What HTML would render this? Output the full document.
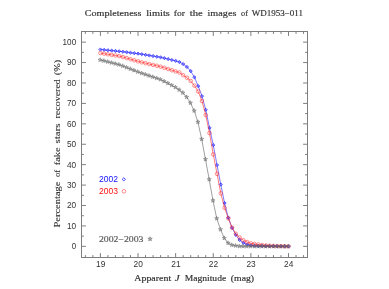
<!DOCTYPE html>
<html><head><meta charset="utf-8"><title>Completeness limits</title>
<style>html,body{margin:0;padding:0;background:#fff}body{width:389px;height:289px;overflow:hidden}</style></head>
<body>
<svg width="389" height="289" viewBox="0 0 389 289" style="display:block;will-change:transform">
<rect width="389" height="289" fill="#fff"/>
<rect x="81.50" y="31.50" width="226.00" height="226.00" fill="none" stroke="#7e7e7e" stroke-width="1"/>
<path d="M85.35 257.50v-2.40M85.35 31.50v2.40M92.88 257.50v-2.40M92.88 31.50v2.40M100.40 257.50v-4.40M100.40 31.50v4.40M107.92 257.50v-2.40M107.92 31.50v2.40M115.45 257.50v-2.40M115.45 31.50v2.40M122.97 257.50v-2.40M122.97 31.50v2.40M130.50 257.50v-2.40M130.50 31.50v2.40M138.02 257.50v-4.40M138.02 31.50v4.40M145.54 257.50v-2.40M145.54 31.50v2.40M153.07 257.50v-2.40M153.07 31.50v2.40M160.59 257.50v-2.40M160.59 31.50v2.40M168.12 257.50v-2.40M168.12 31.50v2.40M175.64 257.50v-4.40M175.64 31.50v4.40M183.16 257.50v-2.40M183.16 31.50v2.40M190.69 257.50v-2.40M190.69 31.50v2.40M198.21 257.50v-2.40M198.21 31.50v2.40M205.74 257.50v-2.40M205.74 31.50v2.40M213.26 257.50v-4.40M213.26 31.50v4.40M220.78 257.50v-2.40M220.78 31.50v2.40M228.31 257.50v-2.40M228.31 31.50v2.40M235.83 257.50v-2.40M235.83 31.50v2.40M243.36 257.50v-2.40M243.36 31.50v2.40M250.88 257.50v-4.40M250.88 31.50v4.40M258.40 257.50v-2.40M258.40 31.50v2.40M265.93 257.50v-2.40M265.93 31.50v2.40M273.45 257.50v-2.40M273.45 31.50v2.40M280.98 257.50v-2.40M280.98 31.50v2.40M288.50 257.50v-4.40M288.50 31.50v4.40M296.02 257.50v-2.40M296.02 31.50v2.40M303.55 257.50v-2.40M303.55 31.50v2.40M81.50 246.35h4.40M307.50 246.35h-4.40M81.50 236.14h2.40M307.50 236.14h-2.40M81.50 225.93h4.40M307.50 225.93h-4.40M81.50 215.72h2.40M307.50 215.72h-2.40M81.50 205.51h4.40M307.50 205.51h-4.40M81.50 195.30h2.40M307.50 195.30h-2.40M81.50 185.09h4.40M307.50 185.09h-4.40M81.50 174.88h2.40M307.50 174.88h-2.40M81.50 164.67h4.40M307.50 164.67h-4.40M81.50 154.46h2.40M307.50 154.46h-2.40M81.50 144.25h4.40M307.50 144.25h-4.40M81.50 134.04h2.40M307.50 134.04h-2.40M81.50 123.83h4.40M307.50 123.83h-4.40M81.50 113.62h2.40M307.50 113.62h-2.40M81.50 103.41h4.40M307.50 103.41h-4.40M81.50 93.20h2.40M307.50 93.20h-2.40M81.50 82.99h4.40M307.50 82.99h-4.40M81.50 72.78h2.40M307.50 72.78h-2.40M81.50 62.57h4.40M307.50 62.57h-4.40M81.50 52.36h2.40M307.50 52.36h-2.40M81.50 42.15h4.40M307.50 42.15h-4.40" stroke="#7e7e7e" stroke-width="1" fill="none"/>
<g font-family="Liberation Sans, sans-serif" font-size="8.2" fill="#333">
<text x="71.80" y="249.25" textLength="4.40" lengthAdjust="spacingAndGlyphs">0</text>
<text x="67.00" y="228.83" textLength="9.20" lengthAdjust="spacingAndGlyphs">10</text>
<text x="67.00" y="208.41" textLength="9.20" lengthAdjust="spacingAndGlyphs">20</text>
<text x="67.00" y="187.99" textLength="9.20" lengthAdjust="spacingAndGlyphs">30</text>
<text x="67.00" y="167.57" textLength="9.20" lengthAdjust="spacingAndGlyphs">40</text>
<text x="67.00" y="147.15" textLength="9.20" lengthAdjust="spacingAndGlyphs">50</text>
<text x="67.00" y="126.73" textLength="9.20" lengthAdjust="spacingAndGlyphs">60</text>
<text x="67.00" y="106.31" textLength="9.20" lengthAdjust="spacingAndGlyphs">70</text>
<text x="67.00" y="85.89" textLength="9.20" lengthAdjust="spacingAndGlyphs">80</text>
<text x="67.00" y="65.47" textLength="9.20" lengthAdjust="spacingAndGlyphs">90</text>
<text x="62.60" y="45.05" textLength="13.60" lengthAdjust="spacingAndGlyphs">100</text>
<text x="96.00" y="266.8" textLength="9.3" lengthAdjust="spacingAndGlyphs">19</text>
<text x="133.62" y="266.8" textLength="9.3" lengthAdjust="spacingAndGlyphs">20</text>
<text x="171.24" y="266.8" textLength="9.3" lengthAdjust="spacingAndGlyphs">21</text>
<text x="208.86" y="266.8" textLength="9.3" lengthAdjust="spacingAndGlyphs">22</text>
<text x="246.48" y="266.8" textLength="9.3" lengthAdjust="spacingAndGlyphs">23</text>
<text x="284.10" y="266.8" textLength="9.3" lengthAdjust="spacingAndGlyphs">24</text>
</g>
<g font-family="Liberation Serif, serif" font-size="8.8" fill="#303030" stroke="#303030" stroke-width="0.16">
<text x="84.80" y="16.3" textLength="56.70" lengthAdjust="spacingAndGlyphs">Completeness</text>
<text x="146.20" y="16.3" textLength="23.70" lengthAdjust="spacingAndGlyphs">limits</text>
<text x="173.80" y="16.3" textLength="11.20" lengthAdjust="spacingAndGlyphs">for</text>
<text x="189.70" y="16.3" textLength="13.00" lengthAdjust="spacingAndGlyphs">the</text>
<text x="207.50" y="16.3" textLength="28.90" lengthAdjust="spacingAndGlyphs">images</text>
<text x="241.10" y="16.3" textLength="6.90" lengthAdjust="spacingAndGlyphs">of</text>
<text x="251.70" y="16.3" textLength="51.30" lengthAdjust="spacingAndGlyphs">WD1953−011</text>
<text x="134.30" y="281.1" textLength="36.90" lengthAdjust="spacingAndGlyphs">Apparent</text>
<text x="174.80" y="281.1" textLength="4.90" lengthAdjust="spacingAndGlyphs" font-style="italic">J</text>
<text x="184.70" y="281.1" textLength="41.50" lengthAdjust="spacingAndGlyphs">Magnitude</text>
<text x="230.80" y="281.1" textLength="23.30" lengthAdjust="spacingAndGlyphs">(mag)</text>
<text transform="translate(59.8 227.60) rotate(-90)" font-size="8.8" stroke="#333" stroke-width="0.12" fill="#333" textLength="46.10" lengthAdjust="spacingAndGlyphs">Percentage</text>
<text transform="translate(59.8 177.10) rotate(-90)" font-size="8.8" stroke="#333" stroke-width="0.12" fill="#333" textLength="7.20" lengthAdjust="spacingAndGlyphs">of</text>
<text transform="translate(59.8 165.30) rotate(-90)" font-size="8.8" stroke="#333" stroke-width="0.12" fill="#333" textLength="18.00" lengthAdjust="spacingAndGlyphs">fake</text>
<text transform="translate(59.8 143.50) rotate(-90)" font-size="8.8" stroke="#333" stroke-width="0.12" fill="#333" textLength="20.10" lengthAdjust="spacingAndGlyphs">stars</text>
<text transform="translate(59.8 118.50) rotate(-90)" font-size="8.8" stroke="#333" stroke-width="0.12" fill="#333" textLength="39.30" lengthAdjust="spacingAndGlyphs">recovered</text>
<text transform="translate(59.8 75.20) rotate(-90)" font-size="8.8" stroke="#333" stroke-width="0.12" fill="#333" textLength="15.30" lengthAdjust="spacingAndGlyphs">(%)</text>
</g>
<polyline points="100.40,49.50 104.16,49.86 107.92,50.23 111.69,50.59 115.45,50.96 119.21,51.32 122.97,51.77 126.73,52.24 130.50,52.71 134.26,53.18 138.02,53.65 141.78,54.19 145.54,54.81 149.31,55.44 153.07,56.06 156.83,56.68 160.59,57.33 164.35,58.14 168.12,59.06 171.88,60.02 175.64,60.81 179.40,62.05 183.16,64.03 186.93,66.94 190.69,71.08 194.45,77.32 198.21,86.13 201.97,96.10 205.74,109.79 209.50,127.79 213.26,145.12 217.02,165.01 220.78,184.52 224.55,203.08 228.31,217.70 232.07,227.93 235.83,234.88 239.59,239.97 243.36,242.97 247.12,244.40 250.88,245.30 254.64,245.67 258.40,246.01 262.17,246.05 265.93,246.10 269.69,246.15 273.45,246.20 277.21,246.25 280.98,246.30 284.74,246.35 288.50,246.40" fill="none" stroke="#2020ff" stroke-width="0.6"/>
<path d="M100.40 47.90L102.00 49.50L100.40 51.10L98.80 49.50ZM104.16 48.26L105.76 49.86L104.16 51.46L102.56 49.86ZM107.92 48.63L109.52 50.23L107.92 51.83L106.32 50.23ZM111.69 48.99L113.29 50.59L111.69 52.19L110.09 50.59ZM115.45 49.36L117.05 50.96L115.45 52.56L113.85 50.96ZM119.21 49.72L120.81 51.32L119.21 52.92L117.61 51.32ZM122.97 50.17L124.57 51.77L122.97 53.37L121.37 51.77ZM126.73 50.64L128.33 52.24L126.73 53.84L125.13 52.24ZM130.50 51.11L132.10 52.71L130.50 54.31L128.90 52.71ZM134.26 51.58L135.86 53.18L134.26 54.78L132.66 53.18ZM138.02 52.05L139.62 53.65L138.02 55.25L136.42 53.65ZM141.78 52.59L143.38 54.19L141.78 55.79L140.18 54.19ZM145.54 53.21L147.14 54.81L145.54 56.41L143.94 54.81ZM149.31 53.84L150.91 55.44L149.31 57.04L147.71 55.44ZM153.07 54.46L154.67 56.06L153.07 57.66L151.47 56.06ZM156.83 55.08L158.43 56.68L156.83 58.28L155.23 56.68ZM160.59 55.73L162.19 57.33L160.59 58.93L158.99 57.33ZM164.35 56.54L165.95 58.14L164.35 59.74L162.75 58.14ZM168.12 57.46L169.72 59.06L168.12 60.66L166.52 59.06ZM171.88 58.42L173.48 60.02L171.88 61.62L170.28 60.02ZM175.64 59.21L177.24 60.81L175.64 62.41L174.04 60.81ZM179.40 60.45L181.00 62.05L179.40 63.65L177.80 62.05ZM183.16 62.43L184.76 64.03L183.16 65.63L181.56 64.03ZM186.93 65.34L188.53 66.94L186.93 68.54L185.33 66.94ZM190.69 69.48L192.29 71.08L190.69 72.68L189.09 71.08ZM194.45 75.72L196.05 77.32L194.45 78.92L192.85 77.32ZM198.21 84.53L199.81 86.13L198.21 87.73L196.61 86.13ZM201.97 94.50L203.57 96.10L201.97 97.70L200.37 96.10ZM205.74 108.19L207.34 109.79L205.74 111.39L204.14 109.79ZM209.50 126.19L211.10 127.79L209.50 129.39L207.90 127.79ZM213.26 143.52L214.86 145.12L213.26 146.72L211.66 145.12ZM217.02 163.41L218.62 165.01L217.02 166.61L215.42 165.01ZM220.78 182.92L222.38 184.52L220.78 186.12L219.18 184.52ZM224.55 201.48L226.15 203.08L224.55 204.68L222.95 203.08ZM228.31 216.10L229.91 217.70L228.31 219.30L226.71 217.70ZM232.07 226.33L233.67 227.93L232.07 229.53L230.47 227.93ZM235.83 233.28L237.43 234.88L235.83 236.48L234.23 234.88ZM239.59 238.37L241.19 239.97L239.59 241.57L237.99 239.97ZM243.36 241.37L244.96 242.97L243.36 244.57L241.76 242.97ZM247.12 242.80L248.72 244.40L247.12 246.00L245.52 244.40ZM250.88 243.70L252.48 245.30L250.88 246.90L249.28 245.30ZM254.64 244.07L256.24 245.67L254.64 247.27L253.04 245.67ZM258.40 244.41L260.00 246.01L258.40 247.61L256.80 246.01ZM262.17 244.45L263.77 246.05L262.17 247.65L260.57 246.05ZM265.93 244.50L267.53 246.10L265.93 247.70L264.33 246.10ZM269.69 244.55L271.29 246.15L269.69 247.75L268.09 246.15ZM273.45 244.60L275.05 246.20L273.45 247.80L271.85 246.20ZM277.21 244.65L278.81 246.25L277.21 247.85L275.61 246.25ZM280.98 244.70L282.58 246.30L280.98 247.90L279.38 246.30ZM284.74 244.75L286.34 246.35L284.74 247.95L283.14 246.35ZM288.50 244.80L290.10 246.40L288.50 248.00L286.90 246.40Z" fill="#2020ff" fill-opacity="0.35" stroke="#2020ff" stroke-width="0.7"/>
<polyline points="100.40,53.10 104.16,53.70 107.92,54.29 111.69,54.89 115.45,55.48 119.21,56.08 122.97,57.05 126.73,58.12 130.50,59.19 134.26,60.26 138.02,61.34 141.78,62.31 145.54,63.18 149.31,64.04 153.07,64.91 156.83,65.77 160.59,66.68 164.35,67.85 168.12,69.04 171.88,70.22 175.64,71.41 179.40,72.52 183.16,75.19 186.93,77.75 190.69,81.00 194.45,85.64 198.21,91.53 201.97,101.05 205.74,115.07 209.50,132.99 213.26,154.41 217.02,173.81 220.78,193.32 224.55,207.83 228.31,218.36 232.07,227.52 235.83,233.73 239.59,237.47 243.36,240.27 247.12,242.01 250.88,243.39 254.64,244.01 258.40,244.57 262.17,245.08 265.93,245.48 269.69,245.70 273.45,245.91 277.21,246.05 280.98,246.13 284.74,246.22 288.50,246.30" fill="none" stroke="#ff2020" stroke-width="0.6"/>
<g fill="none" stroke="#ff2020" stroke-width="0.5"><circle cx="100.40" cy="53.10" r="1.8"/><circle cx="104.16" cy="53.70" r="1.8"/><circle cx="107.92" cy="54.29" r="1.8"/><circle cx="111.69" cy="54.89" r="1.8"/><circle cx="115.45" cy="55.48" r="1.8"/><circle cx="119.21" cy="56.08" r="1.8"/><circle cx="122.97" cy="57.05" r="1.8"/><circle cx="126.73" cy="58.12" r="1.8"/><circle cx="130.50" cy="59.19" r="1.8"/><circle cx="134.26" cy="60.26" r="1.8"/><circle cx="138.02" cy="61.34" r="1.8"/><circle cx="141.78" cy="62.31" r="1.8"/><circle cx="145.54" cy="63.18" r="1.8"/><circle cx="149.31" cy="64.04" r="1.8"/><circle cx="153.07" cy="64.91" r="1.8"/><circle cx="156.83" cy="65.77" r="1.8"/><circle cx="160.59" cy="66.68" r="1.8"/><circle cx="164.35" cy="67.85" r="1.8"/><circle cx="168.12" cy="69.04" r="1.8"/><circle cx="171.88" cy="70.22" r="1.8"/><circle cx="175.64" cy="71.41" r="1.8"/><circle cx="179.40" cy="72.52" r="1.8"/><circle cx="183.16" cy="75.19" r="1.8"/><circle cx="186.93" cy="77.75" r="1.8"/><circle cx="190.69" cy="81.00" r="1.8"/><circle cx="194.45" cy="85.64" r="1.8"/><circle cx="198.21" cy="91.53" r="1.8"/><circle cx="201.97" cy="101.05" r="1.8"/><circle cx="205.74" cy="115.07" r="1.8"/><circle cx="209.50" cy="132.99" r="1.8"/><circle cx="213.26" cy="154.41" r="1.8"/><circle cx="217.02" cy="173.81" r="1.8"/><circle cx="220.78" cy="193.32" r="1.8"/><circle cx="224.55" cy="207.83" r="1.8"/><circle cx="228.31" cy="218.36" r="1.8"/><circle cx="232.07" cy="227.52" r="1.8"/><circle cx="235.83" cy="233.73" r="1.8"/><circle cx="239.59" cy="237.47" r="1.8"/><circle cx="243.36" cy="240.27" r="1.8"/><circle cx="247.12" cy="242.01" r="1.8"/><circle cx="250.88" cy="243.39" r="1.8"/><circle cx="254.64" cy="244.01" r="1.8"/><circle cx="258.40" cy="244.57" r="1.8"/><circle cx="262.17" cy="245.08" r="1.8"/><circle cx="265.93" cy="245.48" r="1.8"/><circle cx="269.69" cy="245.70" r="1.8"/><circle cx="273.45" cy="245.91" r="1.8"/><circle cx="277.21" cy="246.05" r="1.8"/><circle cx="280.98" cy="246.13" r="1.8"/><circle cx="284.74" cy="246.22" r="1.8"/><circle cx="288.50" cy="246.30" r="1.8"/></g>
<polyline points="100.10,59.90 103.86,60.78 107.62,61.74 111.39,62.70 115.15,63.66 118.91,64.62 122.67,65.94 126.43,67.41 130.20,68.88 133.96,70.34 137.72,71.81 141.48,73.19 145.24,74.43 149.01,75.67 152.77,76.91 156.53,78.15 160.29,79.44 164.05,81.30 167.82,83.16 171.58,85.21 175.34,87.26 179.10,89.77 182.86,92.73 186.63,97.06 190.39,102.85 194.15,110.65 197.91,122.00 201.67,139.11 205.44,159.29 209.20,179.36 212.96,200.49 216.72,218.46 220.48,229.45 224.25,238.08 228.01,243.00 231.77,244.98 235.53,245.67 239.29,246.20 243.06,246.31 246.82,246.31 250.58,246.32 254.34,246.33 258.10,246.34 261.87,246.35 265.63,246.35 269.39,246.36 273.15,246.37 276.91,246.38 280.68,246.38 284.44,246.39 288.20,246.40" fill="none" stroke="#606060" stroke-width="0.6"/>
<path d="M100.10 57.70L100.63 59.17L102.19 59.22L100.96 60.18L101.39 61.68L100.10 60.80L98.81 61.68L99.24 60.18L98.01 59.22L99.57 59.17ZM103.86 58.58L104.39 60.06L105.95 60.10L104.72 61.06L105.16 62.56L103.86 61.68L102.57 62.56L103.01 61.06L101.77 60.10L103.33 60.06ZM107.62 59.54L108.15 61.01L109.72 61.06L108.48 62.02L108.92 63.52L107.62 62.64L106.33 63.52L106.77 62.02L105.53 61.06L107.09 61.01ZM111.39 60.50L111.92 61.97L113.48 62.02L112.24 62.98L112.68 64.48L111.39 63.60L110.09 64.48L110.53 62.98L109.29 62.02L110.86 61.97ZM115.15 61.46L115.68 62.93L117.24 62.98L116.00 63.94L116.44 65.44L115.15 64.56L113.85 65.44L114.29 63.94L113.06 62.98L114.62 62.93ZM118.91 62.42L119.44 63.89L121.00 63.94L119.77 64.90L120.20 66.40L118.91 65.52L117.62 66.40L118.05 64.90L116.82 63.94L118.38 63.89ZM122.67 63.74L123.20 65.21L124.76 65.26L123.53 66.22L123.97 67.72L122.67 66.84L121.38 67.72L121.82 66.22L120.58 65.26L122.14 65.21ZM126.43 65.21L126.96 66.68L128.53 66.73L127.29 67.69L127.73 69.19L126.43 68.31L125.14 69.19L125.58 67.69L124.34 66.73L125.90 66.68ZM130.20 66.68L130.73 68.15L132.29 68.20L131.05 69.15L131.49 70.66L130.20 69.78L128.90 70.66L129.34 69.15L128.10 68.20L129.67 68.15ZM133.96 68.14L134.49 69.62L136.05 69.66L134.81 70.62L135.25 72.12L133.96 71.24L132.66 72.12L133.10 70.62L131.87 69.66L133.43 69.62ZM137.72 69.61L138.25 71.08L139.81 71.13L138.58 72.09L139.01 73.59L137.72 72.71L136.43 73.59L136.86 72.09L135.63 71.13L137.19 71.08ZM141.48 70.99L142.01 72.46L143.57 72.51L142.34 73.47L142.78 74.97L141.48 74.09L140.19 74.97L140.63 73.47L139.39 72.51L140.95 72.46ZM145.24 72.23L145.77 73.70L147.34 73.75L146.10 74.71L146.54 76.21L145.24 75.33L143.95 76.21L144.39 74.71L143.15 73.75L144.71 73.70ZM149.01 73.47L149.54 74.94L151.10 74.99L149.86 75.95L150.30 77.45L149.01 76.57L147.71 77.45L148.15 75.95L146.91 74.99L148.48 74.94ZM152.77 74.71L153.30 76.19L154.86 76.23L153.62 77.19L154.06 78.69L152.77 77.81L151.47 78.69L151.91 77.19L150.68 76.23L152.24 76.19ZM156.53 75.95L157.06 77.43L158.62 77.48L157.39 78.43L157.82 79.93L156.53 79.05L155.24 79.93L155.67 78.43L154.44 77.48L156.00 77.43ZM160.29 77.24L160.82 78.72L162.38 78.76L161.15 79.72L161.59 81.22L160.29 80.34L159.00 81.22L159.44 79.72L158.20 78.76L159.76 78.72ZM164.05 79.10L164.58 80.57L166.15 80.62L164.91 81.58L165.35 83.08L164.05 82.20L162.76 83.08L163.20 81.58L161.96 80.62L163.52 80.57ZM167.82 80.96L168.35 82.43L169.91 82.48L168.67 83.44L169.11 84.94L167.82 84.06L166.52 84.94L166.96 83.44L165.72 82.48L167.29 82.43ZM171.58 83.01L172.11 84.48L173.67 84.53L172.43 85.48L172.87 86.99L171.58 86.11L170.28 86.99L170.72 85.48L169.49 84.53L171.05 84.48ZM175.34 85.06L175.87 86.53L177.43 86.58L176.20 87.54L176.63 89.04L175.34 88.16L174.05 89.04L174.48 87.54L173.25 86.58L174.81 86.53ZM179.10 87.57L179.63 89.04L181.19 89.09L179.96 90.04L180.40 91.55L179.10 90.67L177.81 91.55L178.25 90.04L177.01 89.09L178.57 89.04ZM182.86 90.53L183.39 92.00L184.96 92.05L183.72 93.01L184.16 94.51L182.86 93.63L181.57 94.51L182.01 93.01L180.77 92.05L182.33 92.00ZM186.63 94.86L187.16 96.33L188.72 96.38L187.48 97.34L187.92 98.84L186.63 97.96L185.33 98.84L185.77 97.34L184.53 96.38L186.10 96.33ZM190.39 100.65L190.92 102.12L192.48 102.17L191.24 103.13L191.68 104.63L190.39 103.75L189.09 104.63L189.53 103.13L188.30 102.17L189.86 102.12ZM194.15 108.45L194.68 109.92L196.24 109.97L195.01 110.93L195.44 112.43L194.15 111.55L192.86 112.43L193.29 110.93L192.06 109.97L193.62 109.92ZM197.91 119.80L198.44 121.27L200.00 121.32L198.77 122.27L199.21 123.77L197.91 122.90L196.62 123.77L197.06 122.27L195.82 121.32L197.38 121.27ZM201.67 136.91L202.20 138.38L203.77 138.43L202.53 139.38L202.97 140.89L201.67 140.01L200.38 140.89L200.82 139.38L199.58 138.43L201.14 138.38ZM205.44 157.09L205.97 158.56L207.53 158.61L206.29 159.57L206.73 161.07L205.44 160.19L204.14 161.07L204.58 159.57L203.34 158.61L204.91 158.56ZM209.20 177.16L209.73 178.63L211.29 178.68L210.05 179.63L210.49 181.14L209.20 180.26L207.90 181.14L208.34 179.63L207.11 178.68L208.67 178.63ZM212.96 198.29L213.49 199.76L215.05 199.81L213.82 200.77L214.25 202.27L212.96 201.39L211.67 202.27L212.10 200.77L210.87 199.81L212.43 199.76ZM216.72 216.26L217.25 217.73L218.81 217.78L217.58 218.73L218.02 220.24L216.72 219.36L215.43 220.24L215.87 218.73L214.63 217.78L216.19 217.73ZM220.48 227.25L221.01 228.73L222.58 228.77L221.34 229.73L221.78 231.23L220.48 230.35L219.19 231.23L219.63 229.73L218.39 228.77L219.95 228.73ZM224.25 235.88L224.78 237.35L226.34 237.40L225.10 238.35L225.54 239.86L224.25 238.98L222.95 239.86L223.39 238.35L222.15 237.40L223.72 237.35ZM228.01 240.80L228.54 242.28L230.10 242.32L228.86 243.28L229.30 244.78L228.01 243.90L226.71 244.78L227.15 243.28L225.92 242.32L227.48 242.28ZM231.77 242.78L232.30 244.25L233.86 244.30L232.63 245.26L233.06 246.76L231.77 245.88L230.48 246.76L230.91 245.26L229.68 244.30L231.24 244.25ZM235.53 243.47L236.06 244.94L237.62 244.99L236.39 245.95L236.83 247.45L235.53 246.57L234.24 247.45L234.68 245.95L233.44 244.99L235.00 244.94ZM239.29 244.00L239.82 245.47L241.39 245.52L240.15 246.48L240.59 247.98L239.29 247.10L238.00 247.98L238.44 246.48L237.20 245.52L238.76 245.47ZM243.06 244.11L243.59 245.58L245.15 245.63L243.91 246.58L244.35 248.09L243.06 247.21L241.76 248.09L242.20 246.58L240.96 245.63L242.53 245.58ZM246.82 244.11L247.35 245.59L248.91 245.63L247.67 246.59L248.11 248.09L246.82 247.21L245.52 248.09L245.96 246.59L244.73 245.63L246.29 245.59ZM250.58 244.12L251.11 245.59L252.67 245.64L251.44 246.60L251.87 248.10L250.58 247.22L249.29 248.10L249.72 246.60L248.49 245.64L250.05 245.59ZM254.34 244.13L254.87 245.60L256.43 245.65L255.20 246.61L255.64 248.11L254.34 247.23L253.05 248.11L253.49 246.61L252.25 245.65L253.81 245.60ZM258.10 244.14L258.63 245.61L260.20 245.66L258.96 246.62L259.40 248.12L258.10 247.24L256.81 248.12L257.25 246.62L256.01 245.66L257.57 245.61ZM261.87 244.15L262.40 245.62L263.96 245.67L262.72 246.62L263.16 248.12L261.87 247.25L260.57 248.12L261.01 246.62L259.77 245.67L261.34 245.62ZM265.63 244.15L266.16 245.62L267.72 245.67L266.48 246.63L266.92 248.13L265.63 247.25L264.33 248.13L264.77 246.63L263.54 245.67L265.10 245.62ZM269.39 244.16L269.92 245.63L271.48 245.68L270.25 246.64L270.68 248.14L269.39 247.26L268.10 248.14L268.53 246.64L267.30 245.68L268.86 245.63ZM273.15 244.17L273.68 245.64L275.24 245.69L274.01 246.65L274.45 248.15L273.15 247.27L271.86 248.15L272.30 246.65L271.06 245.69L272.62 245.64ZM276.91 244.18L277.44 245.65L279.01 245.70L277.77 246.65L278.21 248.16L276.91 247.28L275.62 248.16L276.06 246.65L274.82 245.70L276.38 245.65ZM280.68 244.18L281.21 245.66L282.77 245.70L281.53 246.66L281.97 248.16L280.68 247.28L279.38 248.16L279.82 246.66L278.58 245.70L280.15 245.66ZM284.44 244.19L284.97 245.66L286.53 245.71L285.29 246.67L285.73 248.17L284.44 247.29L283.14 248.17L283.58 246.67L282.35 245.71L283.91 245.66ZM288.20 244.20L288.73 245.67L290.29 245.72L289.06 246.68L289.49 248.18L288.20 247.30L286.91 248.18L287.34 246.68L286.11 245.72L287.67 245.67Z" fill="#606060" fill-opacity="0.35" stroke="#606060" stroke-width="0.45"/>
<g font-family="Liberation Sans, sans-serif" font-size="8.5">
<text x="98.9" y="181.6" fill="#1010ff" textLength="19" lengthAdjust="spacing">2002</text>
<text x="98.9" y="193.7" fill="#ff1010" textLength="19" lengthAdjust="spacing">2003</text>
</g>
<path d="M123.80 177.75L125.40 179.35L123.80 180.95L122.20 179.35Z" fill="none" stroke="#2020ff" stroke-width="0.85"/>
<circle cx="123.9" cy="191.3" r="1.8" fill="none" stroke="#ff2020" stroke-width="0.5"/>
<text x="99" y="241.6" font-family="Liberation Serif, serif" font-size="8.8" fill="#606060" stroke="#606060" stroke-width="0.2" textLength="44.5" lengthAdjust="spacingAndGlyphs">2002−2003</text>
<path d="M150.05 236.70L150.61 238.23L152.24 238.29L150.95 239.29L151.40 240.86L150.05 239.95L148.70 240.86L149.15 239.29L147.86 238.29L149.49 238.23Z" fill="#606060" fill-opacity="0.5" stroke="#606060" stroke-width="0.5"/>
</svg>
</body></html>
